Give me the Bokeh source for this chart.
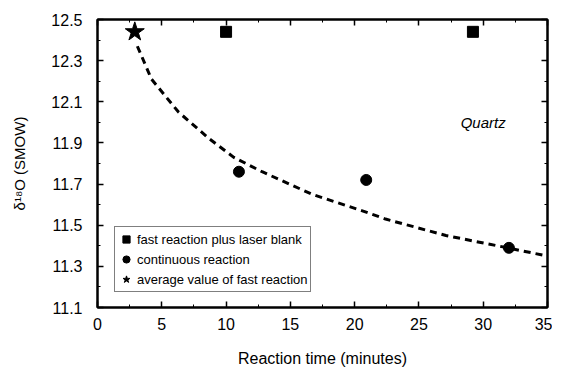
from bokeh.plotting import figure
from bokeh.models import (FixedTicker, LinearAxis, Legend, LegendItem, Label, Range1d)
from bokeh.embed import file_html
from bokeh.resources import INLINE

# ---- data ----
fast_blank_t = [10.0, 29.2]
fast_blank_d = [12.44, 12.44]

continuous_t = [11.0, 20.9, 32.0]
continuous_d = [11.76, 11.72, 11.39]

average_t = [2.9]
average_d = [12.44]

fit_t = [3.1, 4.2, 6.3, 8.7, 10.6, 12.8, 16.7, 20.6, 22.4, 27.1, 31.9, 35.0]
fit_d = [12.37, 12.21, 12.05, 11.92, 11.83, 11.76, 11.65, 11.57, 11.53, 11.45, 11.39, 11.35]

x_ticks = [0, 5, 10, 15, 20, 25, 30, 35]
x_minor = [2.5, 7.5, 12.5, 17.5, 22.5, 27.5, 32.5]
y_ticks = [11.1, 11.3, 11.5, 11.7, 11.9, 12.1, 12.3, 12.5]
y_minor = [11.2, 11.4, 11.6, 11.8, 12.0, 12.2, 12.4]

FONT = "Liberation Sans"

p = figure(frame_width=450, frame_height=288, output_backend="svg", toolbar_location=None,
           x_range=Range1d(0, 35), y_range=Range1d(11.1, 12.5),
           min_border_left=97, min_border_right=5, min_border_top=19, min_border_bottom=40,
           x_axis_label="Reaction time (minutes)", y_axis_label="δ¹⁸O (SMOW)")
p.background_fill_color = "white"
p.border_fill_color = "white"
p.grid.visible = False
p.outline_line_color = "black"
p.outline_line_width = 2

xt = FixedTicker(ticks=x_ticks, minor_ticks=x_minor)
yt = FixedTicker(ticks=y_ticks, minor_ticks=y_minor)

def style(ax, labels=True):
    ax.axis_line_color = "black"
    ax.axis_line_width = 2
    ax.major_tick_in = 6
    ax.major_tick_out = 0
    ax.minor_tick_in = 3
    ax.minor_tick_out = 0
    ax.major_tick_line_width = 1.5
    ax.minor_tick_line_width = 1
    ax.major_label_text_font = FONT
    ax.major_label_text_font_size = "16px"
    ax.major_label_text_color = "black"
    ax.axis_label_text_font = FONT
    ax.axis_label_text_font_size = "16px"
    ax.axis_label_text_font_style = "normal"
    ax.axis_label_text_color = "black"
    if not labels:
        ax.major_label_text_color = None

p.xaxis.ticker = xt
p.yaxis.ticker = yt
for ax in p.xaxis:
    style(ax)
    ax.major_label_standoff = 10
    ax.axis_label_standoff = 17
for ax in p.yaxis:
    style(ax)
    ax.major_label_standoff = 15
    ax.axis_label_standoff = 20
    ax.axis_label_text_font_size = "15px"

top = LinearAxis(ticker=FixedTicker(ticks=x_ticks, minor_ticks=x_minor))
style(top, labels=False)
p.add_layout(top, "above")
right = LinearAxis(ticker=FixedTicker(ticks=y_ticks, minor_ticks=y_minor))
style(right, labels=False)
p.add_layout(right, "right")
top.major_label_text_font_size = "0px"
right.major_label_text_font_size = "0px"
top.major_label_standoff = 0
right.major_label_standoff = 0

fit = p.line(fit_t, fit_d, line_color="black", line_width=3, line_dash="7 5")
sq = p.scatter(fast_blank_t, fast_blank_d, marker="square", size=11,
               fill_color="black", line_color="black")
ci = p.scatter(continuous_t, continuous_d, marker="circle", size=11,
               fill_color="black", line_color="black")
st = p.scatter(average_t, average_d, marker="star", size=20,
               fill_color="black", line_color="black")

legend = Legend(items=[
    LegendItem(label="fast reaction plus laser blank", renderers=[sq]),
    LegendItem(label="continuous reaction", renderers=[ci]),
    LegendItem(label="average value of fast reaction", renderers=[st]),
], location=(17, 15))
legend.label_text_font = FONT
legend.label_text_font_size = "13px"
legend.label_text_color = "black"
legend.label_height = 20
legend.label_standoff = 2
legend.glyph_width = 18
legend.glyph_height = 20
legend.spacing = 0
legend.padding = 2
legend.margin = 0
legend.border_line_color = "black"
legend.border_line_width = 1.5
legend.background_fill_color = "white"
legend.background_fill_alpha = 1
p.add_layout(legend, "center")

p.add_layout(Label(x=30.0, y=12.0, text="Quartz", text_font=FONT,
                   text_font_size="15px", text_font_style="italic",
                   text_align="center", text_baseline="middle", text_color="black"))

open("out.html", "w").write(file_html(p, INLINE))
